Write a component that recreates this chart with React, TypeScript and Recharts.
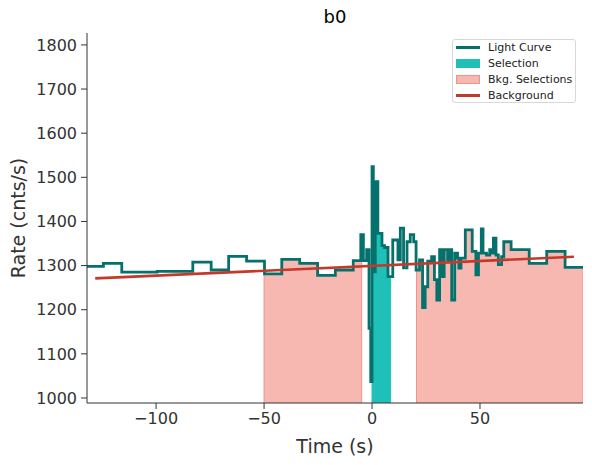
import { Area, ComposedChart, Line, XAxis, YAxis } from "recharts";

// light curve steps: bin start times (s) and rates (cnts/s)
const lcTime = [
  -132.0, -124.4, -115.9, -107.7, -99.5, -91.3, -83.0, -74.5, -66.4, -58.1,
  -49.8, -41.8, -33.5, -25.2, -17.0, -8.7, -5.2, -4.0, -2.5, -1.4,
  -0.6, 0.0, 0.6, 1.5, 2.7, 4.6, 5.8, 7.4, 9.6, 12.0,
  13.1, 14.6, 16.2, 17.7, 19.3, 20.4, 22.0, 23.4, 24.6, 25.8,
  27.6, 28.9, 30.0, 31.3, 32.6, 33.4, 35.0, 36.2, 36.9, 38.3,
  39.6, 40.2, 41.2, 43.2, 46.4, 48.1, 49.3, 50.6, 51.4, 53.0,
  54.5, 55.5, 56.2, 57.4, 58.5, 60.0, 61.0, 64.4, 72.8, 80.9,
  89.4,
];
const lcRate = [
  1298, 1305, 1285, 1285, 1287, 1287, 1308, 1290, 1321, 1310,
  1281, 1314, 1305, 1278, 1290, 1311, 1370, 1311, 1336, 1158,
  1037, 1524, 1286, 1490, 1373, 1345, 1341, 1275, 1358, 1313,
  1385, 1295, 1354, 1370, 1354, 1290, 1313, 1205, 1252, 1310,
  1320, 1268, 1222, 1336, 1275, 1336, 1313, 1336, 1222, 1328,
  1317, 1294, 1317, 1381, 1332, 1279, 1328, 1383, 1328, 1324,
  1336, 1328, 1362, 1324, 1302, 1320, 1354, 1336, 1305, 1332,
  1296,
];
const lcEnd = 97.7;

const selection: [number, number] = [0, 8.6];
const bkgIntervals: Array<[number, number]> = [
  [-50.0, -4.8],
  [20.6, 97.7],
];

const bkgFitTime = [-128.2, 93.5];
const bkgFitRate = [1271, 1320];

const X_DOMAIN: [number, number] = [-132, 97.7];
const Y_DOMAIN: [number, number] = [988.6, 1827];
const X_TICKS = [-100, -50, 0, 50];
const Y_TICKS = [1000, 1100, 1200, 1300, 1400, 1500, 1600, 1700, 1800];

const LC_COLOR = "#05716c";
const SEL_COLOR = "#1fc0b8";
const BKG_FILL = "#f6b8b1";
const BKG_EDGE = "#ef9488";
const FIT_COLOR = "#c5392b";
const INK = "#333333";
const FONT = "DejaVu Sans, Verdana, sans-serif";

const lcData = [
  ...lcTime.map((t, i) => ({ t, v: lcRate[i] })),
  { t: lcEnd, v: lcRate[lcRate.length - 1] },
];

function rateAt(t: number) {
  let v = lcRate[0];
  for (let i = 0; i < lcTime.length; i++) if (lcTime[i] <= t) v = lcRate[i];
  return v;
}

// area under the light curve between a and b, closed down to the axis
function clipSteps(a: number, b: number) {
  const pts = [
    { t: a, v: Y_DOMAIN[0] },
    { t: a, v: rateAt(a) },
  ];
  lcTime.forEach((t, i) => {
    if (t > a && t < b) pts.push({ t, v: lcRate[i] });
  });
  pts.push({ t: b, v: Y_DOMAIN[0] });
  return pts;
}

const fitData = bkgFitTime.map((t, i) => ({ t, v: bkgFitRate[i] }));

const fmt = (v: number) => (v < 0 ? `\u2212${Math.abs(v)}` : String(v));

function LegendBox() {
  const row = { display: "flex", alignItems: "center", height: 15.8 };
  const label = { marginLeft: 8, fontSize: 11, color: "#222" };
  return (
    <div
      style={{
        position: "absolute",
        left: 452,
        top: 39,
        width: 124,
        height: 64,
        border: "1px solid #d8d8d8",
        borderRadius: 3,
        background: "rgba(255,255,255,0.8)",
        boxSizing: "border-box",
        padding: "0 0 0 3px",
        fontFamily: FONT,
      }}
    >
      <div style={row}>
        <div style={{ width: 24, height: 3, background: LC_COLOR }} />
        <span style={label}>Light Curve</span>
      </div>
      <div style={row}>
        <div style={{ width: 24, height: 9, background: SEL_COLOR }} />
        <span style={label}>Selection</span>
      </div>
      <div style={row}>
        <div
          style={{
            width: 24,
            height: 9,
            background: BKG_FILL,
            border: `1px solid ${BKG_EDGE}`,
            boxSizing: "border-box",
          }}
        />
        <span style={label}>Bkg. Selections</span>
      </div>
      <div style={row}>
        <div style={{ width: 24, height: 3, background: FIT_COLOR }} />
        <span style={label}>Background</span>
      </div>
    </div>
  );
}

export default function App() {
  return (
    <div
      style={{
        position: "absolute",
        left: 0,
        top: 0,
        width: 592,
        height: 465,
        background: "#fff",
        fontFamily: FONT,
      }}
    >
      <div
        style={{
          position: "absolute",
          left: 87,
          width: 496,
          top: 6,
          textAlign: "center",
          fontSize: 18,
          color: "#000",
        }}
      >
        b0
      </div>
      <ComposedChart
        width={592}
        height={465}
        margin={{ top: 33, right: 9, bottom: 0, left: 0 }}
        style={{ fontFamily: FONT }}
      >
        <XAxis
          dataKey="t"
          type="number"
          domain={X_DOMAIN}
          allowDataOverflow
          ticks={X_TICKS}
          tickFormatter={fmt}
          height={62}
          tickSize={6}
          tickMargin={4}
          stroke={INK}
          tick={{ fill: INK, fontSize: 16 }}
          label={{
            value: "Time (s)",
            position: "insideBottom",
            offset: 12,
            fill: INK,
            fontSize: 19,
          }}
        />
        <YAxis
          dataKey="v"
          type="number"
          domain={Y_DOMAIN}
          allowDataOverflow
          ticks={Y_TICKS}
          width={87}
          tickSize={6}
          tickMargin={4}
          stroke={INK}
          tick={{ fill: INK, fontSize: 16 }}
          label={{
            value: "Rate (cnts/s)",
            angle: -90,
            position: "insideLeft",
            offset: 18,
            fill: INK,
            fontSize: 19,
            style: { textAnchor: "middle" },
          }}
        />
        {bkgIntervals.map(([a, b], i) => (
          <Area
            key={`bkg${i}`}
            data={clipSteps(a, b)}
            dataKey="v"
            type="stepAfter"
            fill={BKG_FILL}
            fillOpacity={1}
            stroke={BKG_EDGE}
            strokeWidth={1}
            isAnimationActive={false}
          />
        ))}
        <Area
          data={clipSteps(selection[0], selection[1])}
          dataKey="v"
          type="stepAfter"
          fill={SEL_COLOR}
          fillOpacity={1}
          stroke={SEL_COLOR}
          strokeWidth={1}
          isAnimationActive={false}
        />
        <Line
          data={lcData}
          dataKey="v"
          type="stepAfter"
          stroke={LC_COLOR}
          strokeWidth={2.8}
          dot={false}
          isAnimationActive={false}
        />
        <Line
          data={fitData}
          dataKey="v"
          type="linear"
          stroke={FIT_COLOR}
          strokeWidth={2.6}
          dot={false}
          isAnimationActive={false}
        />
      </ComposedChart>
      <LegendBox />
    </div>
  );
}
